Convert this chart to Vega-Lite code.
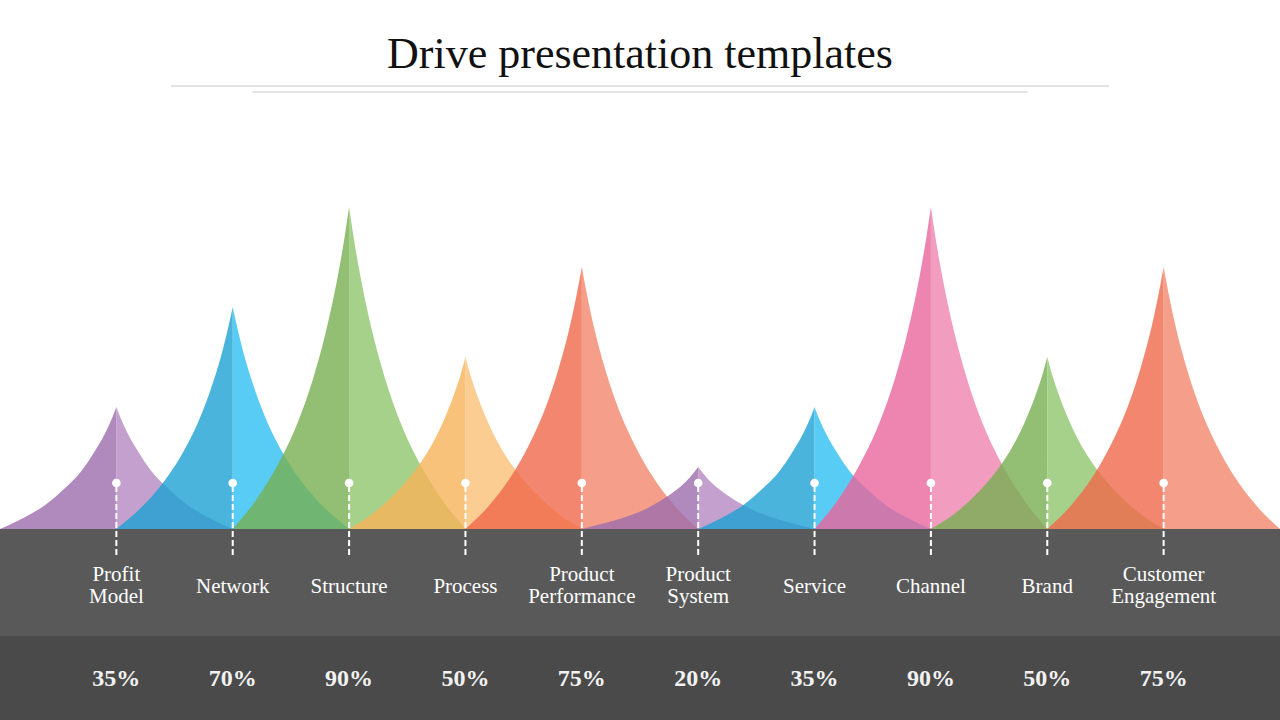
{
  "$schema": "https://vega.github.io/schema/vega-lite/v6.json",
  "width": 1280,
  "height": 720,
  "autosize": {"type": "fit", "contains": "padding"},
  "padding": 0,
  "background": "#ffffff",
  "config": {"view": {"stroke": null}},
  "datasets": {
    "spikes": [
      {"k":"01L","x":0,"h":0},{"k":"01L","x":0.2,"h":11},{"k":"01L","x":0.4,"h":25},{"k":"01L","x":0.55,"h":40},{"k":"01L","x":0.7,"h":58},{"k":"01L","x":0.8,"h":75},{"k":"01L","x":0.9,"h":95},{"k":"01L","x":0.96,"h":110},{"k":"01L","x":1,"h":122},
      {"k":"01R","x":1,"h":122},{"k":"01R","x":1.04,"h":110},{"k":"01R","x":1.1,"h":95},{"k":"01R","x":1.2,"h":75},{"k":"01R","x":1.3,"h":58},{"k":"01R","x":1.45,"h":40},{"k":"01R","x":1.6,"h":25},{"k":"01R","x":1.8,"h":11},{"k":"01R","x":2,"h":0},
      {"k":"02L","x":1,"h":0},{"k":"02L","x":1.2,"h":20},{"k":"02L","x":1.4,"h":46},{"k":"02L","x":1.55,"h":72},{"k":"02L","x":1.7,"h":106},{"k":"02L","x":1.8,"h":136},{"k":"02L","x":1.9,"h":173},{"k":"02L","x":1.96,"h":201},{"k":"02L","x":2,"h":222},
      {"k":"02R","x":2,"h":222},{"k":"02R","x":2.04,"h":201},{"k":"02R","x":2.1,"h":173},{"k":"02R","x":2.2,"h":136},{"k":"02R","x":2.3,"h":106},{"k":"02R","x":2.45,"h":72},{"k":"02R","x":2.6,"h":46},{"k":"02R","x":2.8,"h":20},{"k":"02R","x":3,"h":0},
      {"k":"03L","x":2,"h":0},{"k":"03L","x":2.2,"h":29},{"k":"03L","x":2.4,"h":67},{"k":"03L","x":2.55,"h":104},{"k":"03L","x":2.7,"h":154},{"k":"03L","x":2.8,"h":197},{"k":"03L","x":2.9,"h":251},{"k":"03L","x":2.96,"h":291},{"k":"03L","x":3,"h":322},
      {"k":"03R","x":3,"h":322},{"k":"03R","x":3.04,"h":291},{"k":"03R","x":3.1,"h":251},{"k":"03R","x":3.2,"h":197},{"k":"03R","x":3.3,"h":154},{"k":"03R","x":3.45,"h":104},{"k":"03R","x":3.6,"h":67},{"k":"03R","x":3.8,"h":29},{"k":"03R","x":4,"h":0},
      {"k":"04L","x":3,"h":0},{"k":"04L","x":3.2,"h":15},{"k":"04L","x":3.4,"h":36},{"k":"04L","x":3.55,"h":56},{"k":"04L","x":3.7,"h":82},{"k":"04L","x":3.8,"h":105},{"k":"04L","x":3.9,"h":134},{"k":"04L","x":3.96,"h":155},{"k":"04L","x":4,"h":172},
      {"k":"04R","x":4,"h":172},{"k":"04R","x":4.04,"h":155},{"k":"04R","x":4.1,"h":134},{"k":"04R","x":4.2,"h":105},{"k":"04R","x":4.3,"h":82},{"k":"04R","x":4.45,"h":56},{"k":"04R","x":4.6,"h":36},{"k":"04R","x":4.8,"h":15},{"k":"04R","x":5,"h":0},
      {"k":"05L","x":4,"h":0},{"k":"05L","x":4.2,"h":23},{"k":"05L","x":4.4,"h":54},{"k":"05L","x":4.55,"h":85},{"k":"05L","x":4.7,"h":125},{"k":"05L","x":4.8,"h":160},{"k":"05L","x":4.9,"h":204},{"k":"05L","x":4.96,"h":237},{"k":"05L","x":5,"h":262},
      {"k":"05R","x":5,"h":262},{"k":"05R","x":5.04,"h":237},{"k":"05R","x":5.1,"h":204},{"k":"05R","x":5.2,"h":160},{"k":"05R","x":5.3,"h":125},{"k":"05R","x":5.45,"h":85},{"k":"05R","x":5.6,"h":54},{"k":"05R","x":5.8,"h":23},{"k":"05R","x":6,"h":0},
      {"k":"06L","x":5,"h":0},{"k":"06L","x":5.2,"h":6},{"k":"06L","x":5.4,"h":13},{"k":"06L","x":5.55,"h":20},{"k":"06L","x":5.7,"h":30},{"k":"06L","x":5.8,"h":38},{"k":"06L","x":5.9,"h":48},{"k":"06L","x":5.96,"h":56},{"k":"06L","x":6,"h":62},
      {"k":"06R","x":6,"h":62},{"k":"06R","x":6.04,"h":56},{"k":"06R","x":6.1,"h":48},{"k":"06R","x":6.2,"h":38},{"k":"06R","x":6.3,"h":30},{"k":"06R","x":6.45,"h":20},{"k":"06R","x":6.6,"h":13},{"k":"06R","x":6.8,"h":6},{"k":"06R","x":7,"h":0},
      {"k":"07L","x":6,"h":0},{"k":"07L","x":6.2,"h":11},{"k":"07L","x":6.4,"h":25},{"k":"07L","x":6.55,"h":40},{"k":"07L","x":6.7,"h":58},{"k":"07L","x":6.8,"h":75},{"k":"07L","x":6.9,"h":95},{"k":"07L","x":6.96,"h":110},{"k":"07L","x":7,"h":122},
      {"k":"07R","x":7,"h":122},{"k":"07R","x":7.04,"h":110},{"k":"07R","x":7.1,"h":95},{"k":"07R","x":7.2,"h":75},{"k":"07R","x":7.3,"h":58},{"k":"07R","x":7.45,"h":40},{"k":"07R","x":7.6,"h":25},{"k":"07R","x":7.8,"h":11},{"k":"07R","x":8,"h":0},
      {"k":"08L","x":7,"h":0},{"k":"08L","x":7.2,"h":29},{"k":"08L","x":7.4,"h":67},{"k":"08L","x":7.55,"h":104},{"k":"08L","x":7.7,"h":154},{"k":"08L","x":7.8,"h":197},{"k":"08L","x":7.9,"h":251},{"k":"08L","x":7.96,"h":291},{"k":"08L","x":8,"h":322},
      {"k":"08R","x":8,"h":322},{"k":"08R","x":8.04,"h":291},{"k":"08R","x":8.1,"h":251},{"k":"08R","x":8.2,"h":197},{"k":"08R","x":8.3,"h":154},{"k":"08R","x":8.45,"h":104},{"k":"08R","x":8.6,"h":67},{"k":"08R","x":8.8,"h":29},{"k":"08R","x":9,"h":0},
      {"k":"09L","x":8,"h":0},{"k":"09L","x":8.2,"h":15},{"k":"09L","x":8.4,"h":36},{"k":"09L","x":8.55,"h":56},{"k":"09L","x":8.7,"h":82},{"k":"09L","x":8.8,"h":105},{"k":"09L","x":8.9,"h":134},{"k":"09L","x":8.96,"h":155},{"k":"09L","x":9,"h":172},
      {"k":"09R","x":9,"h":172},{"k":"09R","x":9.04,"h":155},{"k":"09R","x":9.1,"h":134},{"k":"09R","x":9.2,"h":105},{"k":"09R","x":9.3,"h":82},{"k":"09R","x":9.45,"h":56},{"k":"09R","x":9.6,"h":36},{"k":"09R","x":9.8,"h":15},{"k":"09R","x":10,"h":0},
      {"k":"10L","x":9,"h":0},{"k":"10L","x":9.2,"h":23},{"k":"10L","x":9.4,"h":54},{"k":"10L","x":9.55,"h":85},{"k":"10L","x":9.7,"h":125},{"k":"10L","x":9.8,"h":160},{"k":"10L","x":9.9,"h":204},{"k":"10L","x":9.96,"h":237},{"k":"10L","x":10,"h":262},
      {"k":"10R","x":10,"h":262},{"k":"10R","x":10.04,"h":237},{"k":"10R","x":10.1,"h":204},{"k":"10R","x":10.2,"h":160},{"k":"10R","x":10.3,"h":125},{"k":"10R","x":10.45,"h":85},{"k":"10R","x":10.6,"h":54},{"k":"10R","x":10.8,"h":23},{"k":"10R","x":11,"h":0}
    ],
    "items": [
      {"pos":1,"label":"Profit\nModel","pct":"35%"},
      {"pos":2,"label":"Network","pct":"70%"},
      {"pos":3,"label":"Structure","pct":"90%"},
      {"pos":4,"label":"Process","pct":"50%"},
      {"pos":5,"label":"Product\nPerformance","pct":"75%"},
      {"pos":6,"label":"Product\nSystem","pct":"20%"},
      {"pos":7,"label":"Service","pct":"35%"},
      {"pos":8,"label":"Channel","pct":"90%"},
      {"pos":9,"label":"Brand","pct":"50%"},
      {"pos":10,"label":"Customer\nEngagement","pct":"75%"}
    ]
  },
  "layer": [
    {
      "data": {"values": [{}]},
      "mark": {"type": "rect", "color": "#595959"},
      "encoding": {
        "x": {"datum": 0, "type": "quantitative", "scale": {"domain": [0, 11], "nice": false, "zero": false}, "axis": null},
        "x2": {"datum": 11},
        "y": {"datum": 0, "type": "quantitative", "scale": {"domain": [-191, 529], "nice": false, "zero": false}, "axis": null},
        "y2": {"datum": -107}
      }
    },
    {
      "data": {"values": [{}]},
      "mark": {"type": "rect", "color": "#4a4a4a"},
      "encoding": {
        "x": {"datum": 0, "type": "quantitative", "scale": {"domain": [0, 11], "nice": false, "zero": false}, "axis": null},
        "x2": {"datum": 11},
        "y": {"datum": -107, "type": "quantitative", "scale": {"domain": [-191, 529], "nice": false, "zero": false}, "axis": null},
        "y2": {"datum": -191}
      }
    },
    {
      "data": {"values": [{}]},
      "mark": {"type": "rule", "color": "#c8c8c8", "strokeWidth": 1},
      "encoding": {
        "x": {"datum": 1.47, "type": "quantitative", "scale": {"domain": [0, 11], "nice": false, "zero": false}, "axis": null},
        "x2": {"datum": 9.53},
        "y": {"datum": 443, "type": "quantitative", "scale": {"domain": [-191, 529], "nice": false, "zero": false}, "axis": null}
      }
    },
    {
      "data": {"values": [{}]},
      "mark": {"type": "rule", "color": "#c8c8c8", "strokeWidth": 1},
      "encoding": {
        "x": {"datum": 2.17, "type": "quantitative", "scale": {"domain": [0, 11], "nice": false, "zero": false}, "axis": null},
        "x2": {"datum": 8.83},
        "y": {"datum": 437, "type": "quantitative", "scale": {"domain": [-191, 529], "nice": false, "zero": false}, "axis": null}
      }
    },
    {
      "data": {"values": [{"t": "Drive presentation templates"}]},
      "mark": {"type": "text", "font": "Liberation Serif", "fontSize": 44, "color": "#111111", "align": "center", "baseline": "alphabetic"},
      "encoding": {
        "x": {"datum": 5.5, "type": "quantitative", "scale": {"domain": [0, 11], "nice": false, "zero": false}, "axis": null},
        "y": {"datum": 461, "type": "quantitative", "scale": {"domain": [-191, 529], "nice": false, "zero": false}, "axis": null},
        "text": {"field": "t"}
      }
    },
    {
      "data": {"name": "spikes"},
      "mark": {"type": "area", "interpolate": "monotone", "opacity": 0.8},
      "encoding": {
        "x": {"field": "x", "type": "quantitative", "scale": {"domain": [0, 11], "nice": false, "zero": false}, "axis": null},
        "y": {"field": "h", "type": "quantitative", "stack": null, "scale": {"domain": [-191, 529], "nice": false, "zero": false}, "axis": null},
        "y2": {"datum": 0},
        "color": {
          "field": "k", "type": "nominal", "legend": null,
          "scale": {
            "domain": ["01L","01R","02L","02R","03L","03R","04L","04R","05L","05R","06L","06R","07L","07R","08L","08R","09L","09R","10L","10R"],
            "range": ["#9c6dac","#b488c1","#1da1d3","#2ebff3","#77af51","#90c66e","#f7b359","#fac077","#f0684a","#f3876d","#9c6dac","#b488c1","#1da1d3","#2ebff3","#ea659c","#ef83af","#77af51","#90c66e","#f0684a","#f3876d"]
          }
        }
      }
    },
    {
      "data": {"name": "items"},
      "mark": {"type": "rule", "color": "#ffffff", "strokeWidth": 2, "strokeDash": [6, 3]},
      "encoding": {
        "x": {"field": "pos", "type": "quantitative", "scale": {"domain": [0, 11], "nice": false, "zero": false}, "axis": null},
        "y": {"datum": 43, "type": "quantitative", "scale": {"domain": [-191, 529], "nice": false, "zero": false}, "axis": null},
        "y2": {"datum": -29}
      }
    },
    {
      "data": {"name": "items"},
      "mark": {"type": "point", "filled": true, "color": "#ffffff", "opacity": 1, "size": 75},
      "encoding": {
        "x": {"field": "pos", "type": "quantitative", "scale": {"domain": [0, 11], "nice": false, "zero": false}, "axis": null},
        "y": {"datum": 46, "type": "quantitative", "scale": {"domain": [-191, 529], "nice": false, "zero": false}, "axis": null}
      }
    },
    {
      "data": {"name": "items"},
      "transform": [{"filter": "indexof(datum.label, '\\n') < 0"}],
      "mark": {"type": "text", "font": "Liberation Serif", "fontSize": 21, "color": "#ffffff", "align": "center", "baseline": "middle"},
      "encoding": {
        "x": {"field": "pos", "type": "quantitative", "scale": {"domain": [0, 11], "nice": false, "zero": false}, "axis": null},
        "y": {"datum": -58, "type": "quantitative", "scale": {"domain": [-191, 529], "nice": false, "zero": false}, "axis": null},
        "text": {"field": "label"}
      }
    },
    {
      "data": {"name": "items"},
      "transform": [{"filter": "indexof(datum.label, '\\n') >= 0"}],
      "mark": {"type": "text", "font": "Liberation Serif", "fontSize": 21, "lineHeight": 22, "lineBreak": "\n", "color": "#ffffff", "align": "center", "baseline": "middle"},
      "encoding": {
        "x": {"field": "pos", "type": "quantitative", "scale": {"domain": [0, 11], "nice": false, "zero": false}, "axis": null},
        "y": {"datum": -46, "type": "quantitative", "scale": {"domain": [-191, 529], "nice": false, "zero": false}, "axis": null},
        "text": {"field": "label"}
      }
    },
    {
      "data": {"name": "items"},
      "mark": {"type": "text", "font": "Liberation Serif", "fontSize": 24, "fontWeight": "bold", "color": "#f2f2f2", "align": "center", "baseline": "middle"},
      "encoding": {
        "x": {"field": "pos", "type": "quantitative", "scale": {"domain": [0, 11], "nice": false, "zero": false}, "axis": null},
        "y": {"datum": -150, "type": "quantitative", "scale": {"domain": [-191, 529], "nice": false, "zero": false}, "axis": null},
        "text": {"field": "pct"}
      }
    }
  ]
}
